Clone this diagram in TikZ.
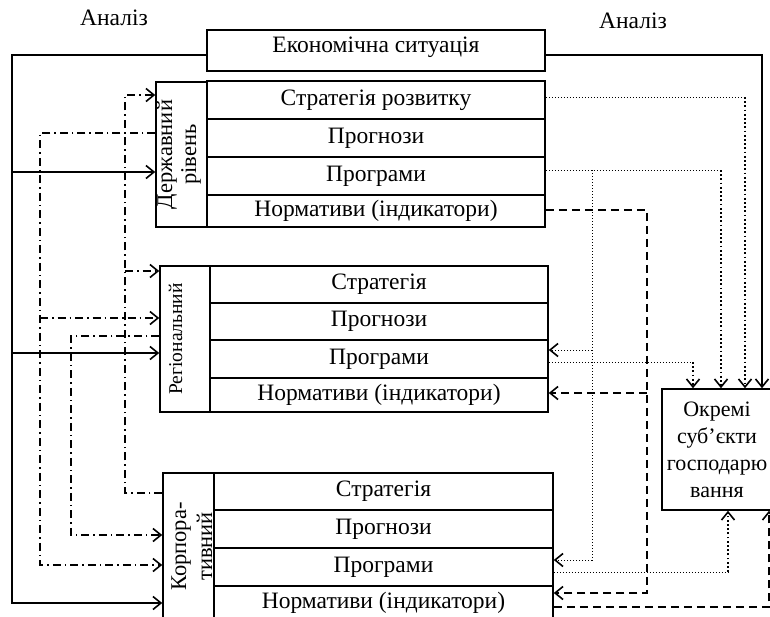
\documentclass[tikz,border=0pt]{standalone}
\usepackage{fontspec}
\setmainfont{Liberation Serif}
\usetikzlibrary{arrows.meta}
\begin{document}
\begin{tikzpicture}[x=1pt,y=-1pt,every node/.style={font=\fontsize{23.5}{25}\selectfont},
  cell/.style={draw,line width=1.5pt,inner sep=0pt,text height=15pt,text depth=5pt,minimum width=338pt,minimum height=38pt},
  lvl/.style={draw,line width=1.5pt,inner sep=0pt,rotate=90,align=center},
  ln/.style={line width=1.7pt},
  dsh/.style={line width=1.7pt,dash pattern=on 8pt off 5pt},
  ddot/.style={line width=1.4pt,dash pattern=on 8pt off 4pt on 1.5pt off 4pt},
  fdot/.style={line width=1pt,dash pattern=on 1pt off 2pt},
  bdot/.style={line width=1.8pt,dash pattern=on 1.8pt off 2.4pt},
  >={Straight Barb[length=8pt,width=13pt,line width=1.6pt]}]
\useasboundingbox (0,0) rectangle (770,616);
\node (anl) at (114,18) {Аналіз};
\node (anr) at (633,21) {Аналіз};
\node[draw,line width=1.5pt,inner sep=0pt,minimum width=338pt,text height=22pt,text depth=19pt] (econ) at (376,50.5) {Економічна ситуація};
\node[lvl,minimum width=145pt,text height=40pt,text depth=11pt,font=\fontsize{22.5}{24}\selectfont] (dl) at (181.5,154.5) {Державний\\рівень};
\node[cell] (ds1) at (376,100) {Стратегія розвитку};
\node[cell] (ds2) at (376,138) {Прогнози};
\node[cell] (ds3) at (376,176) {Програми};
\node[cell,minimum height=32pt] (ds4) at (376,211) {Нормативи (індикатори)};
\node[lvl,minimum width=146pt,text height=22pt,text depth=28pt,font=\fontsize{19.5}{22}\selectfont] (rl) at (185,339) {Регіональний};
\node[cell,minimum height=37pt] (rs1) at (379,284.5) {Стратегія};
\node[cell,minimum height=37pt] (rs2) at (379,321.5) {Прогнози};
\node[cell] (rs3) at (379,359) {Програми};
\node[cell,minimum height=34pt] (rs4) at (379,395) {Нормативи (індикатори)};
\node[lvl,minimum width=147pt,text height=49pt,text depth=2pt,font=\fontsize{22.5}{26}\selectfont] (kl) at (188.5,546.5) {Корпора-\\тивний};
\node[cell,minimum width=339pt,minimum height=37pt] (ks1) at (383.5,491.5) {Стратегія};
\node[cell,minimum width=339pt] (ks2) at (383.5,529) {Прогнози};
\node[cell,minimum width=339pt] (ks3) at (383.5,567) {Програми};
\node[cell,minimum width=339pt,minimum height=34pt] (ks4) at (383.5,603) {Нормативи (індикатори)};
\node[draw,line width=1.5pt,minimum width=110pt,minimum height=121pt,align=center,font=\fontsize{22}{27}\selectfont] (ok) at (717,449.5) {Окремі\\суб’єкти\\господарю\\вання};
\draw[ln,->] (econ.east |- 0,55) -| (ok.north -| 762,0);
\draw[fdot] (ds1.east |- 0,97) -- (745,97) edge[bdot,->] (ok.north -| 745,0);
\draw[fdot] (ds3.east |- 0,170) -- (721,170) edge[bdot,->] (ok.north -| 721,0);
\draw[fdot,->] (592,170) |- (ks3.east |- 0,560);
\draw[fdot,->] (592,350) -- (rs3.east |- 0,350);
\draw[fdot] (rs3.east |- 0,362) -- (693,362) edge[bdot,->] (ok.north -| 693,0);
\draw[fdot] (ks3.east |- 0,572) -- (728,572) edge[bdot,->] (ok.south -| 728,0);
\draw[dsh,->] (ds4.east |- 0,210) -| (647,593) -- (ks4.east |- 0,593);
\draw[dsh,->] (647,393) -- (rs4.east |- 0,393);
\draw[dsh,->] (ks4.east |- 0,607) -| (ok.south -| 769,0);
\draw[ln,->] (econ.west |- 0,55) -| (12,603) -- (kl.north |- 0,603);
\draw[ln,->] (12,172) -- (dl.north |- 0,172);
\draw[ln,->] (12,353) -- (rl.north |- 0,353);
\draw[ddot,->] (kl.north |- 0,493) -| (125,95) -- (dl.north |- 0,95);
\draw[ddot,->] (125,271) -- (rl.north |- 0,271);
\draw[ddot,->] (dl.north |- 0,133) -| (40,565) -- (kl.north |- 0,565);
\draw[ddot,->] (40,318) -- (rl.north |- 0,318);
\draw[ddot,->] (rl.north |- 0,336) -| (71,535) -- (kl.north |- 0,535);
\end{tikzpicture}
\end{document}
